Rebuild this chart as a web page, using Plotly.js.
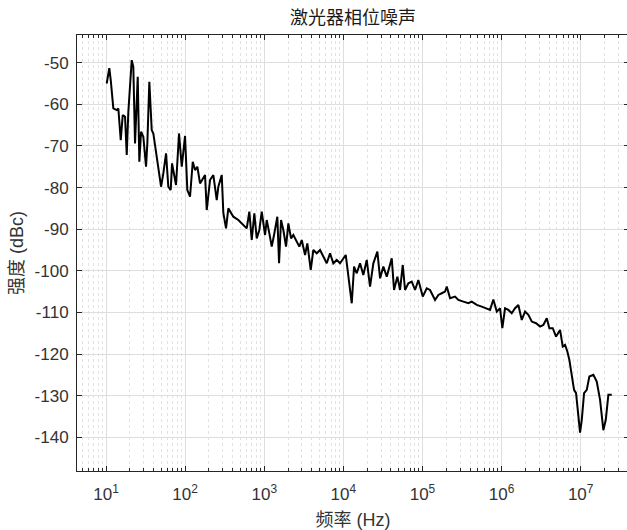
<!DOCTYPE html>
<html>
<head>
<meta charset="utf-8">
<script src="https://cdn.plot.ly/plotly-3.0.1.min.js"></script>
<style>
html,body{margin:0;padding:0;overflow:hidden;background:#fff;}
#chart{width:640px;height:530px;}
</style>
</head>
<body>
<div id="chart"></div>
<script>
// Frequency (Hz)
const frequency = [
10.2, 11.0, 11.47, 11.81, 12.37, 13.66, 14.31, 15.34, 16.26, 17.39,
18.27, 19.14, 20.1, 21.13, 22.13, 23.26, 25.16, 26.36, 27.71, 29.61,
32.04, 33.28, 35.27, 37.82, 39.63, 43.75, 47.2, 49.6, 53.0, 57.35,
61.3, 65.7, 68.3, 72.4, 76.7, 83.7, 90.6, 99.7, 106.6, 115.3,
124.8, 133.4, 142.7, 154.3, 178.5, 187.5, 206.4, 227.3, 250.9, 262.8,
290.2, 304.0, 328.9, 351.6, 406.8, 470.6, 544.2, 600.6, 648, 695,
749.6, 803.9, 867, 929.6, 1024, 1075, 1160, 1244, 1330, 1464,
1539, 1631, 1744, 1886, 2017, 2182, 2332, 2523, 2778, 2979,
3280, 3506, 3871, 4175, 4610, 5075, 5587, 6167, 6790, 7473,
8252, 9083, 10720, 11570, 12770, 13660, 14770, 16260, 17890, 19760,
21750, 23950, 26910, 29110, 32030, 35370, 40910, 43750, 48160, 52110,
56350, 60260, 66330, 73230, 80620, 88750, 100900, 113300, 124700, 144300,
158900, 175400, 193100, 202900, 223400, 258400, 284300, 328900, 380400, 420100,
485800, 561900, 649800, 715300, 787600, 869600, 957200, 1023000, 1107000, 1219000,
1345000, 1481000, 1631000, 1800000, 1982000, 2182000, 2408000, 2730000, 3067000, 3376000,
3727000, 4020000, 4439000, 4886000, 5489000, 5935000, 6347000, 6787000, 7195000, 7717000,
8250000, 8746000, 9352000, 9826000, 10330000, 11040000, 11940000, 12880000, 14480000, 15970000,
17590000, 18490000, 19360000, 20770000, 22400000, 24730000
];
// Amplitude (dBc)
const amplitude = [
-55, -51.3, -54.2, -57.4, -61, -61.4, -61, -68.6, -62.6, -63,
-72.2, -61.8, -56.6, -49.4, -51, -69.4, -53.4, -73.8, -66.6, -67.8,
-75, -69.4, -54.6, -66.2, -67, -72.6, -76.6, -79.8, -76.6, -71.8,
-79.8, -80.6, -74.2, -77.4, -79.4, -67, -75, -67.6, -80.6, -82.2,
-73.8, -75.8, -75, -79, -77, -85.4, -78.2, -77, -83, -79.8,
-77, -86.1, -89.8, -85, -87, -87.8, -89, -89.8, -85.8, -92.6,
-86.2, -92.2, -90.2, -85.8, -91.4, -87.8, -91, -94.2, -91.4, -87,
-98.2, -87.8, -90.2, -94.2, -88.6, -92.2, -91.4, -92.6, -94.2, -92.6,
-96.2, -93.4, -99.8, -95, -95.8, -95, -96.6, -98.2, -95.8, -98.2,
-97.4, -98.2, -96.2, -101.4, -107.8, -99, -100.6, -98.2, -101, -97.4,
-103.8, -98.2, -95.4, -101.8, -99, -101.4, -97, -104.6, -101.4, -104.6,
-98.6, -104.6, -103, -102.6, -104.6, -102.2, -106.2, -104.2, -104.6, -107,
-105.8, -105.4, -105, -103.8, -106.6, -106.2, -107, -107.4, -107.8, -107.4,
-108.2, -108.6, -109, -109.4, -106.9, -109.8, -109, -113.8, -109, -109.4,
-110.2, -109, -108.2, -111.8, -109.8, -110.6, -112.2, -112.6, -113.4, -113,
-111.4, -113.8, -113.8, -115.8, -114.2, -118.2, -117.8, -119.4, -121.4, -124.6,
-128.6, -129.4, -135.8, -138.9, -135.8, -129.4, -128.6, -125.4, -125, -126.6,
-131, -135.4, -138.3, -135.8, -129.8, -129.8
];
const xTickVals = [10, 100, 1000, 10000, 100000, 1000000, 10000000];
const xTickText = ['10<sup>1</sup>','10<sup>2</sup>','10<sup>3</sup>','10<sup>4</sup>','10<sup>5</sup>','10<sup>6</sup>','10<sup>7</sup>'];
const yTickVals = [-140, -130, -120, -110, -100, -90, -80, -70, -60, -50];
const yTickText = ['-140', '-130', '-120', '-110', '-100', '-90', '-80', '-70', '-60', '-50'];

const minorVals = [];
for (let k = 0; k <= 7; k++) {
  for (let m = 2; m <= 9; m++) minorVals.push(m * Math.pow(10, k));
}

const font = '"Liberation Sans", Arial, "Noto Sans CJK SC", sans-serif';
const axisColor = '#262626';

const trace = {
  x: frequency,
  y: amplitude,
  type: 'scatter',
  mode: 'lines',
  line: {color: '#000000', width: 2},
  hoverinfo: 'x+y'
};

const layout = {
  width: 640,
  height: 530,
  autosize: false,
  margin: {l: 77, r: 11, t: 35, b: 59, pad: 0},
  paper_bgcolor: '#ffffff',
  plot_bgcolor: '#ffffff',
  showlegend: false,
  title: {
    text: '激光器相位噪声',
    font: {family: '"Noto Sans CJK SC", sans-serif', size: 18, color: '#1a1a1a'},
    x: 0.5, xref: 'paper', xanchor: 'center',
    y: 0.966, yref: 'container', yanchor: 'middle'
  },
  xaxis: {
    type: 'log',
    range: [0.633, 7.611],
    tickmode: 'array',
    tickvals: xTickVals,
    ticktext: xTickText,
    ticks: 'inside',
    ticklen: 5,
    tickcolor: axisColor,
    tickfont: {family: font, size: 17, color: '#333333'},
    ticklabelstandoff: 8,
    showline: true,
    linecolor: axisColor,
    linewidth: 1,
    mirror: 'allticks',
    showgrid: true,
    gridcolor: '#dedede',
    gridwidth: 1,
    zeroline: false,
    minor: {
      tickmode: 'array',
      tickvals: minorVals,
      ticks: 'inside',
      ticklen: 3,
      tickcolor: axisColor,
      showgrid: true,
      gridcolor: '#e2e2e2',
      griddash: 'dot',
      gridwidth: 1
    },
    title: {
      text: '频率 (Hz)',
      font: {family: font, size: 18, color: '#333333'},
      standoff: 9
    }
  },
  yaxis: {
    range: [-148.1, -43.35],
    tickmode: 'array',
    tickvals: yTickVals,
    ticktext: yTickText,
    ticks: 'inside',
    ticklen: 5,
    tickcolor: axisColor,
    tickfont: {family: font, size: 17, color: '#333333'},
    ticklabelstandoff: 4,
    showline: true,
    linecolor: axisColor,
    linewidth: 1,
    mirror: 'allticks',
    showgrid: true,
    gridcolor: '#dedede',
    gridwidth: 1,
    zeroline: false,
    title: {
      text: '强度 (dBc)',
      font: {family: font, size: 18, color: '#333333'},
      standoff: 6
    }
  }
};

Plotly.newPlot('chart', [trace], layout, {displayModeBar: false, staticPlot: true});
</script>
</body>
</html>
